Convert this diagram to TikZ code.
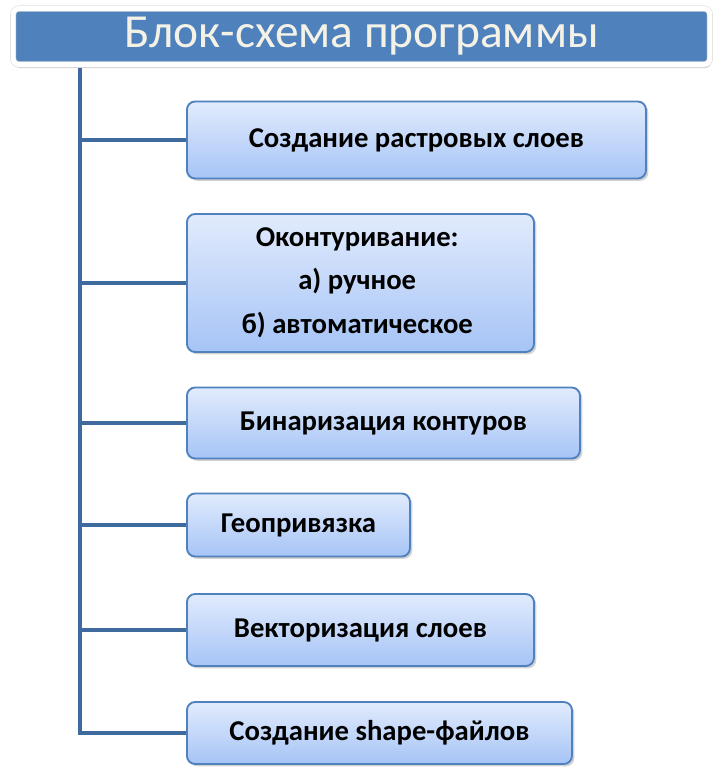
\documentclass[tikz,border=0pt]{standalone}
\usepackage{fontspec}
\setmainfont{Carlito}
\usepackage{tikz}
\usetikzlibrary{positioning,shadows}

\definecolor{titleblue}{HTML}{4F81BD}
\definecolor{titletext}{HTML}{F4F2E6}
\definecolor{linkblue}{HTML}{3F6A9E}
\definecolor{boxtop}{HTML}{E1EBFD}
\definecolor{boxbottom}{HTML}{A6C4F6}

\begin{document}
\begin{tikzpicture}[x=0.03cm,y=-0.03cm,
		every node/.style={font=\fontsize{24.5}{29}\selectfont\bfseries},
		stage/.style={draw=titleblue,line width=1.6pt,rounded corners=7pt,
			top color=boxtop,bottom color=boxbottom,anchor=west,align=center,
			drop shadow={shadow xshift=2pt,shadow yshift=-2pt,opacity=0.35}},
		branch/.style={draw=linkblue,line width=2.6pt},
		]
		\useasboundingbox (0,0) rectangle (723,771);
		
		% Title
		\node[draw=gray!25,double=white,double distance=4pt,line width=0.6pt,
		rounded corners=5pt,fill=titleblue,
		drop shadow={shadow xshift=1pt,shadow yshift=-3pt,opacity=0.4},
		text=titletext,font=\fontsize{40.5}{46}\selectfont,
		minimum width=20.9cm,minimum height=1.68cm]
		(title) at (361.5,36.5) {Блок-схема программы};
		
		% Stages
		\node[stage,minimum width=13.77cm,minimum height=2.31cm]
		(raster) at (186,140) {Создание растровых слоев};
		
		\node[stage,minimum width=10.41cm,minimum height=4.14cm]
		(contour) at (186,283)
		{
			\begin{tabular}{c}
				Оконтуривание:\\[8pt]
				а) ручное\\[8pt]
				б) автоматическое
			\end{tabular}
		};
		
		\node[stage,minimum width=11.79cm,minimum height=2.13cm]
		(binar) at (186,423) {Бинаризация контуров};
		
		\node[stage,minimum width=6.69cm,minimum height=1.89cm]
		(geo) at (186,525) {Геопривязка};
		
		\node[stage,minimum width=10.41cm,minimum height=2.16cm]
		(vector) at (186,630) {Векторизация слоев};
		
		\node[stage,minimum width=11.55cm,minimum height=1.86cm]
		(shape) at (186,733) {Создание shape-файлов};
		
		% Tree lines
		\coordinate (trunk) at (80,68);
		\draw[branch] (trunk)|-(shape.west);
		
		\foreach \n in {raster,contour,binar,geo,vector}
		\draw[branch] (trunk|-\n.west)--(\n.west);
		
	\end{tikzpicture}
\end{document}
